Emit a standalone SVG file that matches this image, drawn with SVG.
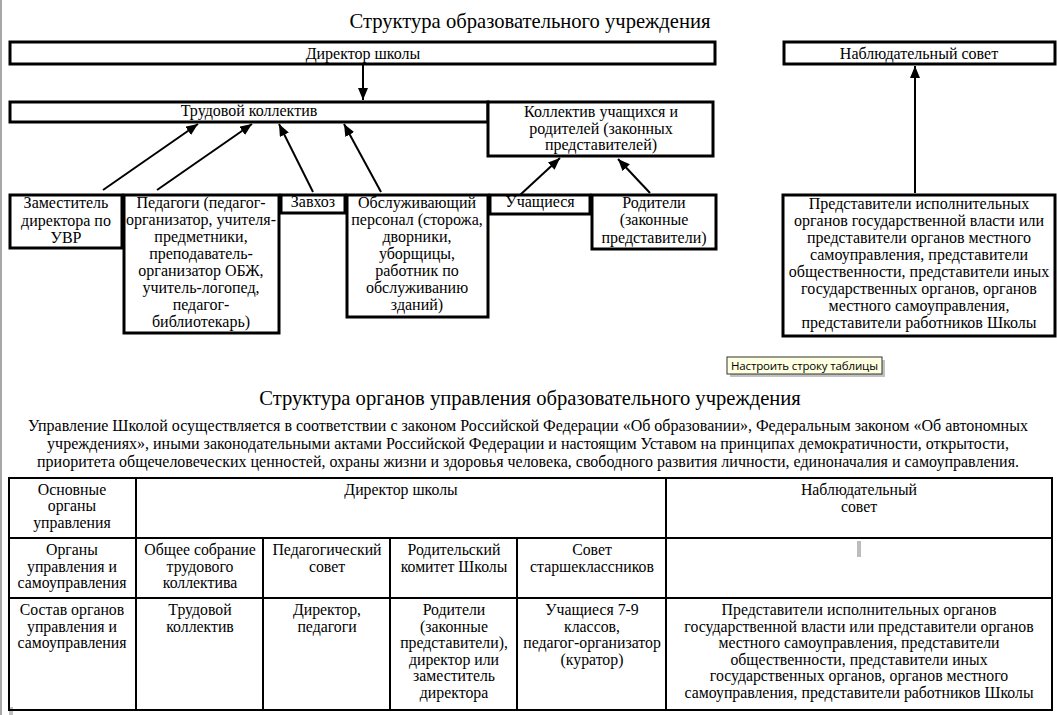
<svg xmlns="http://www.w3.org/2000/svg" width="1057" height="715" viewBox="0 0 1057 715">
<defs>
<marker id="ah" markerUnits="userSpaceOnUse" markerWidth="13" markerHeight="10" refX="12" refY="5" orient="auto">
<path d="M0,0 L12,5 L0,10 z" fill="#000"/>
</marker>
<style>
text{font-family:"Liberation Serif","Times New Roman",serif;fill:#000;}
.t{font-size:20.6px;text-anchor:middle;}
.b{font-size:16px;text-anchor:middle;}
.p{font-size:16px;text-anchor:middle;}
.c{font-size:15.8px;text-anchor:middle;}
.box{fill:#fff;stroke:#000;stroke-width:3;}
.conn line{stroke:#000;stroke-width:2;marker-end:url(#ah);}
.tl{stroke:#000;stroke-width:2;fill:none;}
</style>
</defs>
<rect x="0" y="0" width="1057" height="715" fill="#fff"/>
<rect x="0" y="0" width="2" height="715" fill="#a8a8a8"/>
<rect x="9" y="707" width="4" height="8" fill="#c0c0c0"/>

<text class="t" x="530" y="28">Структура образовательного учреждения</text>

<g id="director">
<rect class="box" x="10" y="42" width="705" height="22"/>
<text class="b" x="363" y="59">Директор школы</text>
</g>
<g id="nabl">
<rect class="box" x="784" y="42" width="271" height="22"/>
<text class="b" x="919" y="59">Наблюдательный совет</text>
</g>
<g id="trud">
<rect class="box" x="10" y="102" width="478" height="20"/>
<text class="b" x="249" y="116">Трудовой коллектив</text>
</g>
<g id="koll">
<rect class="box" x="488" y="102" width="225" height="54"/>
<text class="b" x="601" y="117">Коллектив учащихся и</text>
<text class="b" x="601" y="134">родителей (законных</text>
<text class="b" x="601" y="150">представителей)</text>
</g>
<g id="zam">
<rect class="box" x="10" y="195" width="112" height="53"/>
<text class="b" x="66" y="208">Заместитель</text>
<text class="b" x="66" y="226">директора по</text>
<text class="b" x="66" y="243">УВР</text>
</g>
<g id="ped">
<rect class="box" x="124" y="195" width="155" height="138"/>
<text class="b" x="201" y="208">Педагоги (педагог-</text>
<text class="b" x="201" y="225">организатор, учителя-</text>
<text class="b" x="201" y="242">предметники,</text>
<text class="b" x="201" y="259">преподаватель-</text>
<text class="b" x="201" y="276">организатор ОБЖ,</text>
<text class="b" x="201" y="293">учитель-логопед,</text>
<text class="b" x="201" y="310">педагог-</text>
<text class="b" x="201" y="327">библиотекарь)</text>
</g>
<g id="zavhoz">
<rect class="box" x="281" y="195" width="64" height="18"/>
<text class="b" x="313" y="207">Завхоз</text>
</g>
<g id="obsl">
<rect class="box" x="347" y="195" width="141" height="122"/>
<text class="b" x="417" y="208">Обслуживающий</text>
<text class="b" x="417" y="225">персонал (сторожа,</text>
<text class="b" x="417" y="242">дворники,</text>
<text class="b" x="417" y="259">уборщицы,</text>
<text class="b" x="417" y="276">работник по</text>
<text class="b" x="417" y="293">обслуживанию</text>
<text class="b" x="417" y="310">зданий)</text>
</g>
<g id="uch">
<rect class="box" x="490" y="195" width="100" height="19"/>
<text class="b" x="540" y="207">Учащиеся</text>
</g>
<g id="rod">
<rect class="box" x="592" y="195" width="124" height="54"/>
<text class="b" x="654" y="208">Родители</text>
<text class="b" x="654" y="225">(законные</text>
<text class="b" x="654" y="243">представители)</text>
</g>
<g id="pred">
<rect class="box" x="783" y="195" width="272" height="141"/>
<text class="b" x="919" y="209">Представители исполнительных</text>
<text class="b" x="919" y="226">органов государственной власти или</text>
<text class="b" x="919" y="243">представители органов местного</text>
<text class="b" x="919" y="260">самоуправления, представители</text>
<text class="b" x="919" y="277">общественности, представители иных</text>
<text class="b" x="919" y="294">государственных органов, органов</text>
<text class="b" x="919" y="311">местного самоуправления,</text>
<text class="b" x="919" y="328">представители работников Школы</text>
</g>

<g class="conn">
<line x1="363" y1="64" x2="363" y2="100"/>
<line x1="103" y1="190" x2="198" y2="124"/>
<line x1="157" y1="190" x2="252" y2="124"/>
<line x1="313" y1="192" x2="279" y2="124"/>
<line x1="381" y1="192" x2="344" y2="124"/>
<line x1="520" y1="195" x2="560" y2="158"/>
<line x1="650" y1="193" x2="618" y2="159"/>
<line x1="915" y1="193" x2="915" y2="66"/>
</g>

<g id="tooltip">
<rect x="730" y="360" width="155" height="17" fill="#9a9a9a" opacity="0.6"/>
<rect x="727" y="357" width="155" height="17" fill="#ffffe1" stroke="#333" stroke-width="1"/>
<text x="731" y="370" style="font-family:'Open Sans','Noto Sans',sans-serif;font-size:11.5px" textLength="147">Настроить строку таблицы</text>
</g>

<text class="t" x="530" y="405">Структура органов управления образовательного учреждения</text>
<text class="p" x="528" y="431">Управление Школой осуществляется в соответствии с законом Российской Федерации «Об образовании», Федеральным законом «Об автономных</text>
<text class="p" x="528" y="449">учреждениях», иными законодательными актами Российской Федерации и настоящим Уставом на принципах демократичности, открытости,</text>
<text class="p" x="528" y="467">приоритета общечеловеческих ценностей, охраны жизни и здоровья человека, свободного развития личности, единоначалия и самоуправления.</text>

<g id="table">
<rect class="tl" x="9" y="478" width="1043" height="232" stroke-width="2.5"/>
<line class="tl" x1="9" y1="538" x2="1052" y2="538"/>
<line class="tl" x1="9" y1="598" x2="1052" y2="598"/>
<line class="tl" x1="136" y1="478" x2="136" y2="710"/>
<line class="tl" x1="666" y1="478" x2="666" y2="710"/>
<line class="tl" x1="263" y1="538" x2="263" y2="710"/>
<line class="tl" x1="390" y1="538" x2="390" y2="710"/>
<line class="tl" x1="517" y1="538" x2="517" y2="710"/>
<rect x="857" y="541" width="4" height="16" fill="#bdbdbd"/>

<text class="c" x="72" y="495">Основные</text>
<text class="c" x="72" y="511">органы</text>
<text class="c" x="72" y="528">управления</text>
<text class="c" x="401" y="495">Директор школы</text>
<text class="c" x="859" y="495">Наблюдательный</text>
<text class="c" x="859" y="512">совет</text>

<text class="c" x="72" y="555">Органы</text>
<text class="c" x="72" y="572">управления и</text>
<text class="c" x="72" y="588">самоуправления</text>
<text class="c" x="200" y="555">Общее собрание</text>
<text class="c" x="200" y="572">трудового</text>
<text class="c" x="200" y="588">коллектива</text>
<text class="c" x="327" y="555">Педагогический</text>
<text class="c" x="327" y="572">совет</text>
<text class="c" x="454" y="555">Родительский</text>
<text class="c" x="454" y="572">комитет Школы</text>
<text class="c" x="592" y="555">Совет</text>
<text class="c" x="592" y="572">старшеклассников</text>

<text class="c" x="72" y="615">Состав органов</text>
<text class="c" x="72" y="632">управления и</text>
<text class="c" x="72" y="648">самоуправления</text>
<text class="c" x="200" y="615">Трудовой</text>
<text class="c" x="200" y="632">коллектив</text>
<text class="c" x="327" y="615">Директор,</text>
<text class="c" x="327" y="632">педагоги</text>
<text class="c" x="454" y="615">Родители</text>
<text class="c" x="454" y="632">(законные</text>
<text class="c" x="454" y="648">представители),</text>
<text class="c" x="454" y="665">директор или</text>
<text class="c" x="454" y="681">заместитель</text>
<text class="c" x="454" y="698">директора</text>
<text class="c" x="592" y="615">Учащиеся 7-9</text>
<text class="c" x="592" y="632">классов,</text>
<text class="c" x="592" y="648">педагог-организатор</text>
<text class="c" x="592" y="665">(куратор)</text>
<text class="c" x="859" y="615">Представители исполнительных органов</text>
<text class="c" x="859" y="632">государственной власти или представители органов</text>
<text class="c" x="859" y="648">местного самоуправления, представители</text>
<text class="c" x="859" y="665">общественности, представители иных</text>
<text class="c" x="859" y="681">государственных органов, органов местного</text>
<text class="c" x="859" y="698">самоуправления, представители работников Школы</text>
</g>
</svg>
